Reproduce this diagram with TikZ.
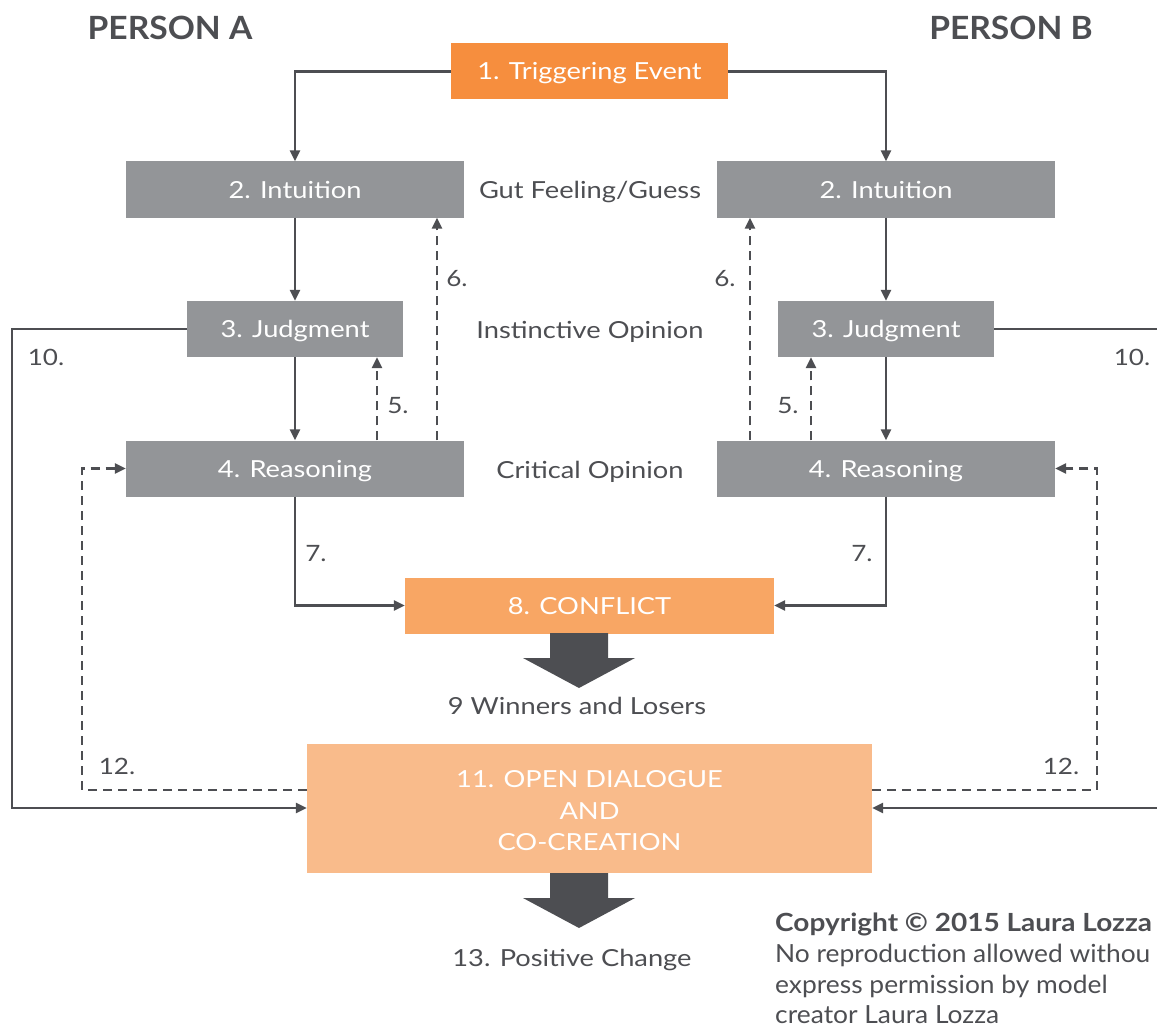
\documentclass[tikz,border=0pt]{standalone}
\usepackage{fontspec}
\setmainfont{Lato}[FakeStretch=1.16, BoldFeatures={FakeStretch=1.05}]
\newfontfamily\crfont{Lato}[FakeStretch=1.055, BoldFeatures={FakeStretch=1.12}]
\usetikzlibrary{arrows.meta}
\definecolor{dk}{HTML}{4D4E52}
\definecolor{boxgray}{HTML}{939598}
\definecolor{trigor}{HTML}{F68E3E}
\definecolor{confor}{HTML}{F8A664}
\definecolor{openor}{HTML}{F9BB8B}
\tikzset{
  boxbase/.style={rectangle, inner sep=0pt, text=white, minimum height=56pt,
    font=\fontsize{23.5}{31.5}\selectfont, align=center},
  one/.style={text height=17pt, text depth=0pt},
  gbox/.style={boxbase, one, fill=boxgray},
  lvl/.style={text=dk, inner sep=0pt, one, font=\fontsize{23.5}{28}\selectfont},
  lab/.style={text=dk, inner sep=0pt, text height=16pt, text depth=0pt, font=\fontsize{22.5}{28}\selectfont},
  head/.style={text=dk, inner sep=0pt, text height=23pt, text depth=0pt, font=\fontsize{32}{36}\selectfont\bfseries},
  conn/.style={draw=dk, line width=2.4pt, -{Triangle[length=11pt,width=10pt]}},
  dconn/.style={conn, dash pattern=on 9pt off 6pt},
  crt/.style={text=dk, inner sep=0pt, text depth=0pt, anchor=base west, font=\crfont\fontsize{25}{29}\selectfont},
}
\begin{document}
\begin{tikzpicture}[x=1pt,y=-1pt]
\useasboundingbox (0,0) rectangle (1157,1030);
\clip (0,0) rectangle (1157,1030);

% headings
\node[head] (pa) at (170,28.5) {PERSON A};
\node[head] (pb) at (1011,28.5) {PERSON B};

% boxes
\node[boxbase, one, fill=trigor, minimum width=277pt] (trig) at (589.5,71.5) {1. Triggering Event};
\node[gbox, minimum width=338pt] (intA) at (295,189.5) {2. Intuition};
\node[gbox, minimum width=338pt] (intB) at (886,189.5) {2. Intuition};
\node[gbox, minimum width=216pt] (judA) at (295,329) {3. Judgment};
\node[gbox, minimum width=216pt] (judB) at (886,329) {3. Judgment};
\node[gbox, minimum width=338pt] (reaA) at (295,468.5) {4. Reasoning};
\node[gbox, minimum width=338pt] (reaB) at (886,468.5) {4. Reasoning};
\node[boxbase, one, fill=confor, minimum width=369pt] (conf) at (589.5,605.5) {8. CONFLICT};
\node[boxbase, fill=openor, minimum width=565pt, minimum height=129pt] (open) at (589.5,808.5) {};
\node[boxbase, text depth=0pt] (opentext) at (589.5,810.5) {11. OPEN DIALOGUE\\AND\\CO-CREATION};

% level texts
\node[lvl] (gut) at (590,189.5) {Gut Feeling/Guess};
\node[lvl] (ins) at (590,330) {Instinctive Opinion};
\node[lvl] (cri) at (590,469.5) {Critical Opinion};
\node[lvl] (win) at (577,706) {9 Winners and Losers};
\node[lvl] (pos) at (572,958) {13. Positive Change};

% solid connectors
\draw[conn] (trig.west) -| (intA.north);
\draw[conn] (trig.east) -| (intB.north);
\draw[conn] (intA.south) -- (judA.north);
\draw[conn] (intB.south) -- (judB.north);
\draw[conn] (judA.south) -- (reaA.north);
\draw[conn] (judB.south) -- (reaB.north);
\draw[conn] (reaA.south) |- (conf.west);
\draw[conn] (reaB.south) |- (conf.east);

% dashed feedback
\draw[dconn] ([xshift=82pt]reaA.north) -- ([xshift=82pt]judA.south);
\draw[dconn] ([xshift=142pt]reaA.north) -- ([xshift=142pt]intA.south);
\draw[dconn] ([xshift=-75pt]reaB.north) -- ([xshift=-75pt]judB.south);
\draw[dconn] ([xshift=-136pt]reaB.north) -- ([xshift=-136pt]intB.south);

% 10. loops
\coordinate (l10) at (12,808);
\coordinate (r10) at (1165,808);
\draw[conn] (judA.west) -| (l10) -- (l10 -| open.west);
\draw[conn] (judB.east) -| (r10) -- (r10 -| open.east);

% 12. loops
\coordinate (l12) at (82,790);
\coordinate (r12) at (1097,790);
\draw[dconn] (l12 -| open.west) -- (l12) |- (reaA.west);
\draw[dconn] (r12 -| open.east) -- (r12) |- (reaB.east);

% big arrows
\fill[dk] (550,633) -- (608,633) -- (608,658) -- (635,658) -- (579,688) -- (523,658) -- (550,658) -- cycle;
\fill[dk] (550,873) -- (608,873) -- (608,898) -- (635,898) -- (579,928) -- (523,898) -- (550,898) -- cycle;

% labels
\node[lab] (n10a) at (46,357) {10.};
\node[lab] (n10b) at (1132,357) {10.};
\node[lab] (n5a) at (398,405) {5.};
\node[lab] (n5b) at (788,405) {5.};
\node[lab] (n6a) at (457,278) {6.};
\node[lab] (n6b) at (725,278) {6.};
\node[lab] (n7a) at (316,553) {7.};
\node[lab] (n7b) at (862,553) {7.};
\node[lab] (n12a) at (117,766) {12.};
\node[lab] (n12b) at (1061,766) {12.};

% copyright
\node[crt, font=\crfont\fontsize{25}{29}\selectfont\bfseries] (cr1) at (775,931) {Copyright © 2015 Laura Lozza};
\node[crt] (cr2) at (775,962) {No reproduction allowed withou};
\node[crt] (cr3) at (775,993) {express permission by model};
\node[crt] (cr4) at (775,1023) {creator Laura Lozza};
\end{tikzpicture}
\end{document}
